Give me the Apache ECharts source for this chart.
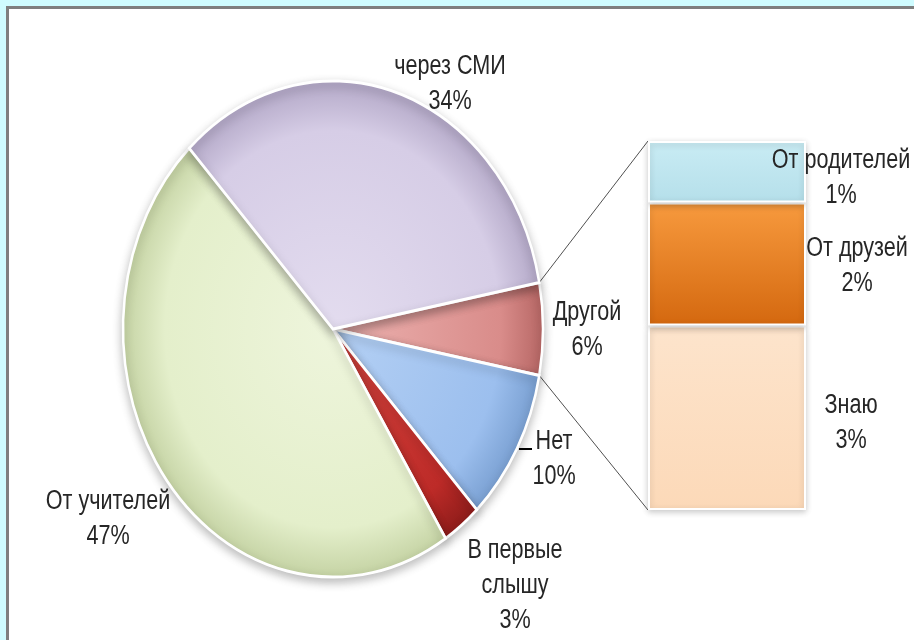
<!DOCTYPE html>
<html>
<head>
<meta charset="utf-8">
<script src="https://cdn.jsdelivr.net/npm/echarts@6/dist/echarts.min.js"></script>
<style>
  html, body { margin: 0; padding: 0; }
  #chart { width: 914px; height: 640px; }
</style>
</head>
<body>
<div id="chart"></div>
<script>
// pie part (clockwise from the right side)
const pieNames = ['Другой', 'Нет', 'В первые\nслышу', 'От учителей', 'через СМИ'];
const pieValues = [6, 10, 3, 47, 34];
// the "Другой" slice split into the bar (top to bottom)
const barNames = ['От родителей', 'От друзей', 'Знаю'];
const barValues = [1, 2, 3];

const FONT = '"Liberation Sans", Arial, sans-serif';
const textStyle = { font: '27px ' + FONT, lineHeight: 35, fill: '#262626', align: 'center', verticalAlign: 'middle' };
const TEXT_SQUEEZE = 0.8;
// ellipse of the pie
const cx = 333, cy = 329, rx = 210, ry = 248;
// bar box
const gLeft = 648, gTop = 141, gWidth = 158, gHeight = 369;

const pieColors = [
  ['#ecb2b0', '#d98c8a', '#b76765'],
  ['#b4d0f4', '#9cbfee', '#7aa0d2'],
  ['#d4453f', '#bd2b28', '#8f1c1a'],
  ['#eef5dc', '#e4efcb', '#c5d3a4'],
  ['#e3dcef', '#d6cde6', '#b3a8c7']
];
// label centres for the pie slices
const labelAt = [[587, 330], [554, 459], [515, 586], [108, 519], [450, 84]];

const total = pieValues.reduce((s, v) => s + v, 0);
const startDeg = [];
let acc = pieValues[0] / total * 180;
pieValues.forEach(v => { startDeg.push(acc); acc -= v / total * 360; });

function squeezedText(str, x, y) {
  return { type: 'text', x: x, y: y, scaleX: TEXT_SQUEEZE, z2: 10,
    style: Object.assign({ text: str, x: 0, y: 0 }, textStyle) };
}

function renderPie(params, api) {
  const i = params.dataIndex;
  const v = api.value(0);
  const a0 = startDeg[i];
  const a1 = a0 - v / total * 360;
  const c = pieColors[i];
  const children = [{
    type: 'sector',
    x: cx, y: cy, scaleX: rx / ry,
    shape: { cx: 0, cy: 0, r0: 0, r: ry,
      startAngle: -a0 * Math.PI / 180, endAngle: -a1 * Math.PI / 180, clockwise: true },
    style: {
      fill: { type: 'radial', x: 0, y: 0, r: ry, global: true,
        colorStops: [{ offset: 0, color: c[0] }, { offset: 0.8, color: c[1] }, { offset: 1, color: c[2] }] },
      stroke: '#ffffff', lineWidth: 3, strokeNoScale: true,
      shadowBlur: 10, shadowColor: 'rgba(0,0,0,0.25)', shadowOffsetY: 4
    }
  }, squeezedText(pieNames[i] + '\n' + v + '%', labelAt[i][0], labelAt[i][1])];
  if (i === 0) {
    // connector lines to the bar
    const t0 = a0 * Math.PI / 180, t1 = a1 * Math.PI / 180;
    children.push({ type: 'line', shape: { x1: cx + rx * Math.cos(t0), y1: cy - ry * Math.sin(t0), x2: gLeft, y2: gTop },
      style: { stroke: '#505050', lineWidth: 1 } });
    children.push({ type: 'line', shape: { x1: cx + rx * Math.cos(t1), y1: cy - ry * Math.sin(t1), x2: gLeft, y2: gTop + gHeight },
      style: { stroke: '#505050', lineWidth: 1 } });
  }
  if (i === 1) {
    children.push({ type: 'line', shape: { x1: 519, y1: 449, x2: 532, y2: 449 },
      style: { stroke: '#000', lineWidth: 2 } });
  }
  return { type: 'group', children: children };
}

const barColors = [
  ['#c9ecf4', '#b5dfea'],
  ['#f79a3e', '#d4680f'],
  ['#fde4cc', '#fcd9b8']
];
// label offsets from the bar segment centre
const barLabelDx = [114, 130, 124];
const barLabelDy = [6, 2, 5];

function renderBarLabel(params, api) {
  const i = params.dataIndex;
  const v = api.value(1);
  let below = 0;
  for (let j = i + 1; j < barValues.length; j++) below += barValues[j];
  const p = api.coord([api.value(0), below + v / 2]);
  return squeezedText(barNames[i] + '\n' + v + '%', p[0] + barLabelDx[i], p[1] + barLabelDy[i]);
}

const chart = echarts.init(document.getElementById('chart'));

const barSeries = barNames.map((n, i) => ({
  name: n,
  type: 'bar',
  stack: 'rest',
  barWidth: '100%',
  data: [barValues[i]],
  itemStyle: {
    color: { type: 'linear', x: 0, y: 0, x2: 0, y2: 1,
      colorStops: [{ offset: 0, color: barColors[i][0] }, { offset: 1, color: barColors[i][1] }] },
    borderColor: '#ffffff', borderWidth: 2,
    shadowBlur: 6, shadowColor: 'rgba(0,0,0,0.2)', shadowOffsetY: 2
  },
  z: 3
})).reverse();

chart.setOption({
  backgroundColor: '#cffcff',
  animation: false,
  graphic: [{
    type: 'rect', z: -10,
    shape: { x: 7.5, y: 7.5, width: 930, height: 660 },
    style: { fill: '#ffffff', stroke: '#7f7f7f', lineWidth: 3 }
  }],
  grid: { left: gLeft, top: gTop, width: gWidth, height: gHeight },
  xAxis: { type: 'category', data: [''], show: false },
  yAxis: { type: 'value', min: 0, max: barValues.reduce((s, v) => s + v, 0), show: false },
  series: [{
    type: 'custom',
    coordinateSystem: 'none',
    renderItem: renderPie,
    data: pieValues.map((v, i) => ({ name: pieNames[i], value: v })),
    z: 2
  }].concat(barSeries, [{
    type: 'custom',
    coordinateSystem: 'cartesian2d',
    renderItem: renderBarLabel,
    data: barValues.map(v => [0, v]),
    z: 5
  }])
});
</script>
</body>
</html>
